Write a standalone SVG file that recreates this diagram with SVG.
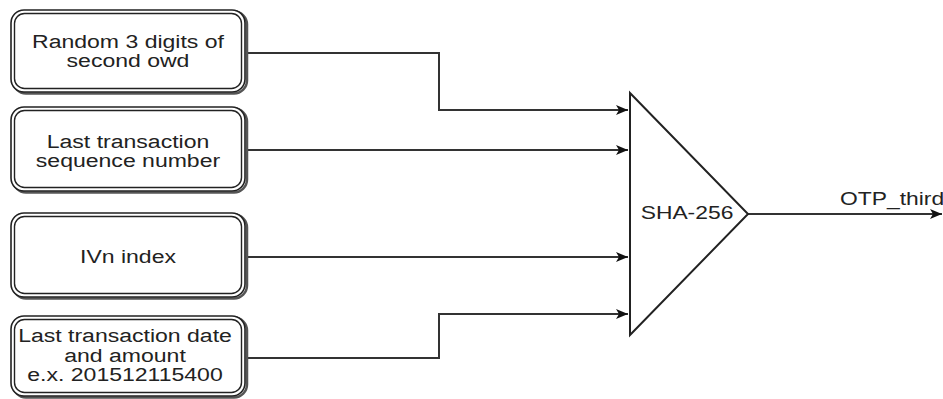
<svg xmlns="http://www.w3.org/2000/svg" width="943" height="399" viewBox="0 0 943 399">
<style>
.sh{fill:none;stroke:#555;stroke-width:2.5}
.bo{fill:#fff;stroke:#222;stroke-width:1.6}
.bi{fill:none;stroke:#222;stroke-width:1.4}
.t{font-family:"Liberation Sans",Arial,sans-serif;font-size:18px;fill:#222;text-anchor:middle}
.c{fill:none;stroke:#333;stroke-width:2}
.tri{fill:#fff;stroke:#222;stroke-width:2;stroke-linejoin:miter}
</style>
<defs>
<marker id="ah" viewBox="0 0 12 10" refX="12" refY="5" markerWidth="12" markerHeight="10" markerUnits="userSpaceOnUse" orient="auto">
<path d="M0,0 L12,5 L0,10 L3,5 Z" fill="#111"/>
</marker>
</defs>
<rect width="943" height="399" fill="#fff"/>
<g id="connectors">
<path class="c" d="M247,53 H439 V110 H628" marker-end="url(#ah)"/>
<path class="c" d="M247,150 H628" marker-end="url(#ah)"/>
<path class="c" d="M247,257 H628" marker-end="url(#ah)"/>
<path class="c" d="M247,358 H439 V314 H628" marker-end="url(#ah)"/>
<path class="c" d="M748,214 H942" marker-end="url(#ah)"/>
</g>
<g id="n1">
<rect class="sh" x="13" y="11.5" width="234" height="82" rx="13"/>
<rect class="bo" x="11" y="10" width="234" height="82" rx="13"/>
<rect class="bi" x="14.5" y="13.5" width="227" height="75" rx="10"/>
<g transform="translate(128,0) scale(1.28,1)"><text class="t" x="0" y="48">Random 3 digits of</text><text class="t" x="0" y="67">second owd</text></g>
</g>
<g id="n2">
<rect class="sh" x="13" y="108.5" width="234" height="84" rx="13"/>
<rect class="bo" x="11" y="107" width="234" height="84" rx="13"/>
<rect class="bi" x="14.5" y="110.5" width="227" height="77" rx="10"/>
<g transform="translate(128,0) scale(1.28,1)"><text class="t" x="0" y="148">Last transaction</text><text class="t" x="0" y="167">sequence number</text></g>
</g>
<g id="n3">
<rect class="sh" x="13" y="214.5" width="234" height="84" rx="13"/>
<rect class="bo" x="11" y="213" width="234" height="84" rx="13"/>
<rect class="bi" x="14.5" y="216.5" width="227" height="77" rx="10"/>
<g transform="translate(128,0) scale(1.28,1)"><text class="t" x="0" y="263">IVn index</text></g>
</g>
<g id="n4">
<rect class="sh" x="13" y="317.5" width="234" height="80" rx="13"/>
<rect class="bo" x="11" y="316" width="234" height="80" rx="13"/>
<rect class="bi" x="14.5" y="319.5" width="227" height="73" rx="10"/>
<g transform="translate(125,0) scale(1.28,1)"><text class="t" x="0" y="342">Last transaction date</text><text class="t" x="0" y="362">and amount</text><text class="t" x="0" y="381">e.x. 201512115400</text></g>
</g>
<g id="sha">
<path class="tri" d="M630,93 L748,214 L630,335 Z"/>
<g transform="translate(687,0) scale(1.27,1)"><text class="t" x="0" y="219">SHA-256</text></g>
</g>
<g id="out-label">
<g transform="translate(840,0) scale(1.27,1)"><text class="t" x="0" y="205" style="text-anchor:start">OTP_third</text></g>
</g>
</svg>
